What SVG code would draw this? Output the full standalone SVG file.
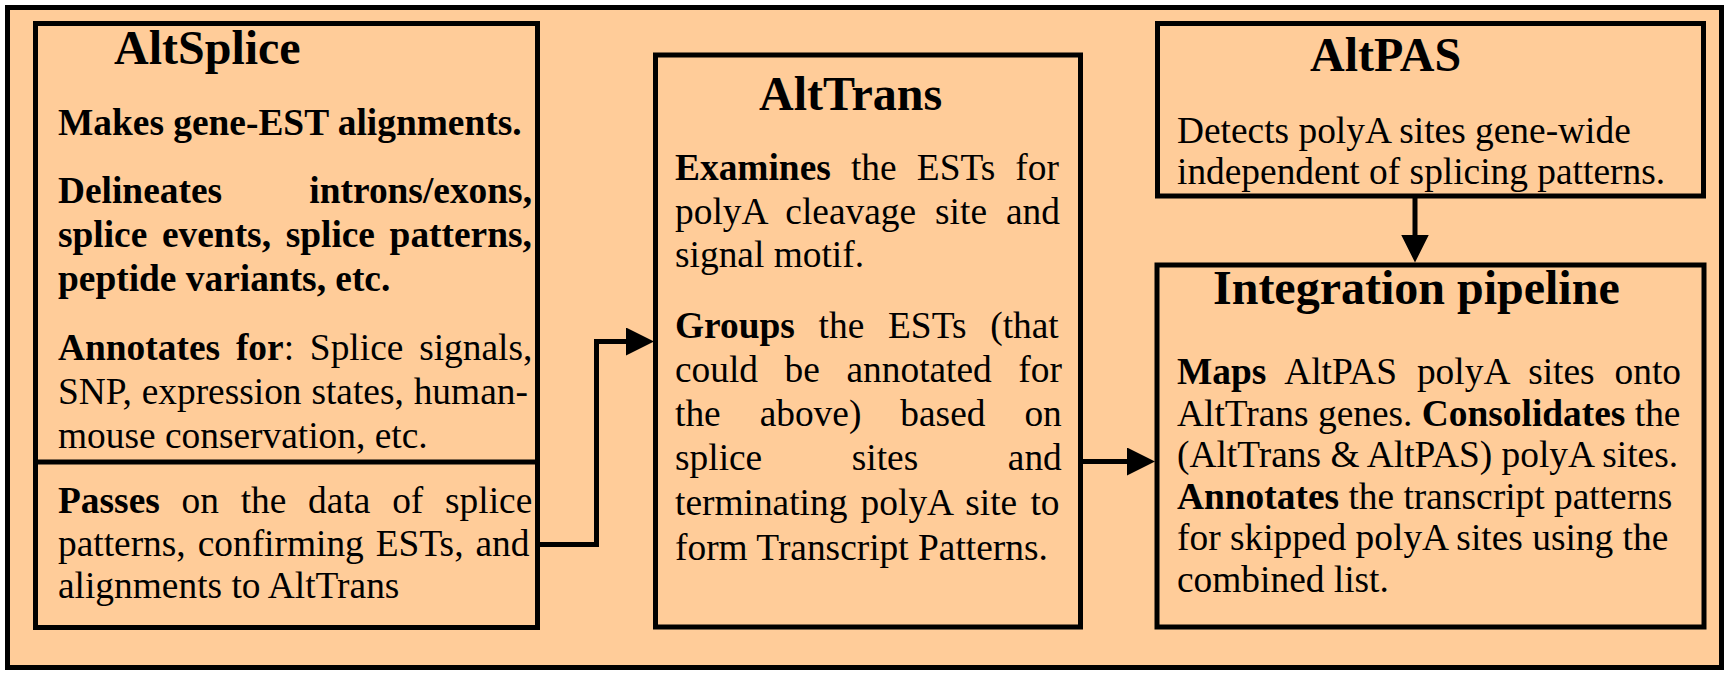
<svg xmlns="http://www.w3.org/2000/svg" width="1729" height="674" viewBox="0 0 1729 674">
<style>
.box { fill: #FFCC99; stroke: #000; stroke-width: 5; }
.frame { fill: #FFCC99; stroke: #000; stroke-width: 5; }
.t { font-family: "Liberation Serif", "Times New Roman", serif; font-size: 37.4px; fill: #000; }
.b { font-weight: bold; }
.h { font-family: "Liberation Serif", "Times New Roman", serif; font-size: 48px; font-weight: bold; fill: #000; }
.conn { fill: none; stroke: #000; stroke-width: 5; }
</style>
<defs>
<marker id="arr" markerUnits="userSpaceOnUse" markerWidth="28" markerHeight="28" viewBox="0 0 28 28" refX="22" refY="14" orient="auto">
<path d="M0,0 L28,14 L0,28 Z" fill="#000"/>
</marker>
</defs>
<rect x="0" y="0" width="1729" height="674" fill="#fff"/>
<rect class="frame" x="7.5" y="7.5" width="1714" height="660"/>

<g id="altsplice">
<rect class="box" x="35.5" y="23.5" width="502" height="604"/>
<line x1="35.5" y1="462" x2="537.5" y2="462" stroke="#000" stroke-width="5"/>
<text class="h" x="114" y="64">AltSplice</text>
<text class="t b" x="58" y="135">Makes gene-EST alignments.</text>
<text class="t b" x="58" y="203">Delineates</text>
<text class="t b" x="532" y="203" text-anchor="end">introns/exons,</text>
<text class="t b" x="58" y="247" word-spacing="5.3">splice events, splice patterns,</text>
<text class="t b" x="58" y="291">peptide variants, etc.</text>
<text class="t" x="58" y="360" word-spacing="6.5"><tspan class="b">Annotates for</tspan>: Splice signals,</text>
<text class="t" x="58" y="404" word-spacing="0.5">SNP, expression states, human-</text>
<text class="t" x="58" y="448">mouse conservation, etc.</text>
<text class="t" x="58" y="513" word-spacing="12.4"><tspan class="b">Passes</tspan> on the data of splice</text>
<text class="t" x="58" y="556" word-spacing="2.6">patterns, confirming ESTs, and</text>
<text class="t" x="58" y="598">alignments to AltTrans</text>
</g>

<g id="alttrans">
<rect class="box" x="655.5" y="55" width="425" height="572"/>
<text class="h" x="759" y="110">AltTrans</text>
<text class="t" x="675" y="180" word-spacing="10.8"><tspan class="b">Examines</tspan> the ESTs for</text>
<text class="t" x="675" y="223.5" word-spacing="9.6">polyA cleavage site and</text>
<text class="t" x="675" y="267">signal motif.</text>
<text class="t" x="675" y="338" word-spacing="14.4"><tspan class="b">Groups</tspan> the ESTs (that</text>
<text class="t" x="675" y="382" word-spacing="17.2">could be annotated for</text>
<text class="t" x="675" y="426" word-spacing="29.6">the above) based on</text>
<text class="t" x="675" y="470" word-spacing="80.2">splice sites and</text>
<text class="t" x="675" y="515" word-spacing="3.9">terminating polyA site to</text>
<text class="t" x="675" y="560">form Transcript Patterns.</text>
</g>

<g id="altpas">
<rect class="box" x="1157.5" y="23.5" width="546" height="172.5"/>
<text class="h" x="1310" y="71">AltPAS</text>
<text class="t" x="1177" y="143">Detects polyA sites gene-wide</text>
<text class="t" x="1177" y="183.5">independent of splicing patterns.</text>
</g>

<g id="integration">
<rect class="box" x="1157" y="265" width="547" height="362"/>
<text class="h" x="1213" y="304">Integration pipeline</text>
<text class="t" x="1177" y="384" word-spacing="10.5"><tspan class="b">Maps</tspan> AltPAS polyA sites onto</text>
<text class="t" x="1177" y="425.5">AltTrans genes. <tspan class="b">Consolidates</tspan> the</text>
<text class="t" x="1177" y="467">(AltTrans &amp; AltPAS) polyA sites.</text>
<text class="t" x="1177" y="508.5"><tspan class="b">Annotates</tspan> the transcript patterns</text>
<text class="t" x="1177" y="550">for skipped polyA sites using the</text>
<text class="t" x="1177" y="591.5">combined list.</text>
</g>

<g id="connectors">
<path class="conn" d="M537.5,544.5 H596.5 V341.5 H648" marker-end="url(#arr)"/>
<path class="conn" d="M1080.5,461.5 H1149" marker-end="url(#arr)"/>
<path class="conn" d="M1415,196 V256.5" marker-end="url(#arr)"/>
</g>
</svg>
